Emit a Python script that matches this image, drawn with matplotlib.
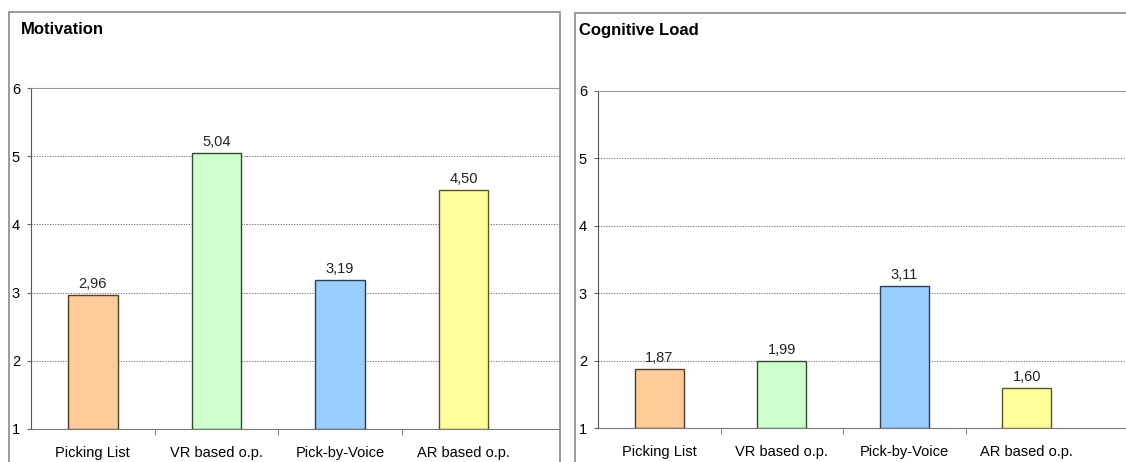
import matplotlib
matplotlib.use('Agg')
import matplotlib.pyplot as plt
from matplotlib.patches import Rectangle
import numpy as np

plt.rcParams['font.family'] = ['Liberation Sans', 'DejaVu Sans']

categories = ['Picking List', 'VR based o.p.', 'Pick-by-Voice', 'AR based o.p.']
motivation = [2.96, 5.04, 3.19, 4.50]
cognitive_load = [1.87, 1.99, 3.11, 1.60]
titles = ['Motivation', 'Cognitive Load']
yticks = [1, 2, 3, 4, 5, 6]

fill_colors = ['#FFCC99', '#CCFFCC', '#99CCFF', '#FFFF99']
edge_colors = ['#4d3d2a', '#2f4a2f', '#2a3d55', '#55552a']

W, H = 1126, 462
fig = plt.figure(figsize=(W / 100, H / 100), dpi=100)

def px_axes(x0, y0, x1, y1):
    # pixel box (top-left origin) -> figure axes
    return fig.add_axes([x0 / W, 1 - y1 / H, (x1 - x0) / W, (y1 - y0) / H])

# outer chart frames (both run off the bottom, the right one off the right edge)
frames = [(9, 12, 560), (575, 13, W + 20)]
for fx0, fy0, fx1 in frames:
    fig.patches.append(Rectangle((fx0 / W, -0.1), (fx1 - fx0) / W, 1 - fy0 / H + 0.1,
                                 transform=fig.transFigure, fill=False,
                                 edgecolor='#8a8a8a', linewidth=1.2))

panels = [
    (motivation, (31, 88, 560, 429), (-0.5, 3.78), (21, 29)),
    (cognitive_load, (598, 91, 1126, 428), (-0.5, 3.81), (579, 31)),
]

for i, (vals, box, xl, tpos) in enumerate(panels):
    ax = px_axes(*box)
    x = np.arange(len(categories))
    ax.bar(x, [v - 1 for v in vals], bottom=1, width=0.4,
           color=fill_colors, edgecolor=edge_colors, linewidth=1.0, zorder=3)
    for xi, v in zip(x, vals):
        ax.text(xi, v + 0.06, f'{v:.2f}'.replace('.', ','), ha='center',
                va='bottom', fontsize=10.5, color='#222222')
    ax.set_xlim(*xl)
    ax.set_ylim(1, 6)
    ax.set_yticks(yticks)
    ax.set_yticklabels([str(t) for t in yticks], fontsize=10.5)
    for g in yticks[1:-1]:
        ax.axhline(g, color='#666666', linestyle=(0, (1.2, 1.5)),
                   linewidth=0.7, zorder=1)
    ax.set_xticks(x)
    ax.set_xticklabels(categories, fontsize=10.5)
    ax.set_xticks(np.arange(0.5, len(categories) - 1), minor=True)
    ax.tick_params(axis='x', which='major', length=0, pad=12)
    ax.tick_params(axis='x', which='minor', length=4, direction='out', color='#666666')
    ax.tick_params(axis='y', length=3, direction='out', pad=5, color='#666666')
    ax.spines['top'].set_color('#999999')
    ax.spines['right'].set_visible(False)
    ax.spines['left'].set_color('#555555')
    ax.spines['bottom'].set_color('#777777')
    ax.set_facecolor('white')
    fig.text(tpos[0] / W, 1 - tpos[1] / H, titles[i], fontsize=12,
             fontweight='bold', ha='left', va='center')

fig.savefig('out.png', dpi=100)
